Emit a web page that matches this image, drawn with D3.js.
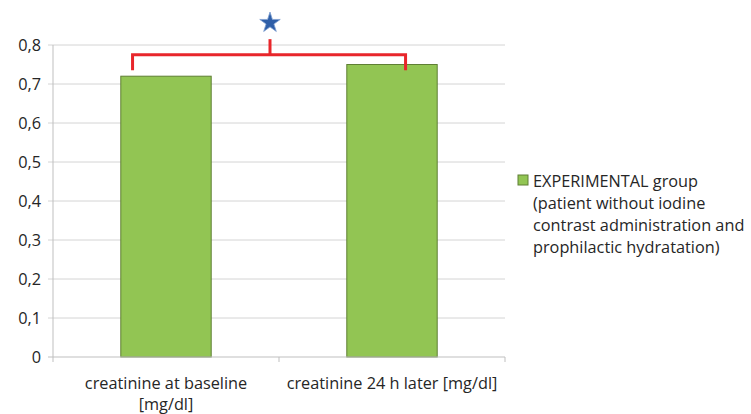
<!DOCTYPE html>
<html><head><meta charset="utf-8">
<script src="https://cdn.jsdelivr.net/npm/d3@7"></script>
<style>body{margin:0;background:#fff}</style>
</head><body>
<svg id="c" width="751" height="414"></svg>
<script>
const categories = ["creatinine at baseline [mg/dl]", "creatinine 24 h later [mg/dl]"];
const values = [0.72, 0.75];
const yTicks = [0, 0.1, 0.2, 0.3, 0.4, 0.5, 0.6, 0.7, 0.8];
const tickLabels = ["0", "0,1", "0,2", "0,3", "0,4", "0,5", "0,6", "0,7", "0,8"];
const legendLines = ["EXPERIMENTAL group", "(patient without iodine", "contrast administration and", "prophilactic hydratation)"];
const bracket = {y: 0.775, ends: 0.735, top: 0.815, star: 0.857};

const svg = d3.select("#c");
const font = "'Open Sans', sans-serif";
const fs = 16.3;
const x = d3.scaleBand().domain(categories).range([53, 505]).paddingInner(0.6).paddingOuter(0.3);
const xc = d3.scaleBand().domain(categories).range([53, 505]);
const y = d3.scaleLinear().domain([0, 0.8]).range([357, 45]);

svg.append("g").selectAll("line").data(yTicks.slice(1)).join("line")
  .attr("x1", 48).attr("x2", 505).attr("y1", d => y(d)).attr("y2", d => y(d))
  .attr("stroke", "#d4d4d4").attr("stroke-width", 1);
svg.append("line").attr("x1", 53).attr("x2", 53).attr("y1", y(0.8)).attr("y2", y(0)).attr("stroke", "#bfbfbf");
svg.append("line").attr("x1", 48).attr("x2", 53).attr("y1", y(0)).attr("y2", y(0)).attr("stroke", "#bfbfbf");
svg.append("g").selectAll("text").data(yTicks).join("text")
  .attr("x", 41).attr("y", d => y(d)).attr("dy", "0.35em").attr("text-anchor", "end")
  .attr("font-family", font).attr("font-size", fs).attr("fill", "#262626")
  .text((d, i) => tickLabels[i]);

svg.append("g").selectAll("rect").data(values).join("rect")
  .attr("x", (d, i) => x(categories[i])).attr("width", x.bandwidth())
  .attr("y", d => y(d)).attr("height", d => y(0) - y(d))
  .attr("fill", "#92c553").attr("stroke", "#5f7f34").attr("stroke-width", 1);

svg.append("line").attr("x1", 53).attr("x2", 505).attr("y1", y(0)).attr("y2", y(0)).attr("stroke", "#bfbfbf");
const xTickPos = [53, xc(categories[1]), 505];
svg.append("g").selectAll("line").data(xTickPos).join("line")
  .attr("x1", d => d).attr("x2", d => d).attr("y1", y(0)).attr("y2", y(0) + 5).attr("stroke", "#bfbfbf");

const catLines = [["creatinine at baseline", "[mg/dl]"], ["creatinine 24 h later [mg/dl]"]];
categories.forEach((c, i) => {
  const t = svg.append("text").attr("text-anchor", "middle").attr("font-family", font)
    .attr("font-size", fs).attr("fill", "#262626");
  catLines[i].forEach((l, j) => t.append("tspan").attr("x", xc(c) + xc.bandwidth() / 2).attr("y", 389 + j * 21).text(l));
});

const c0 = x(categories[0]) + x.bandwidth() * 0.13, c1 = x(categories[1]) + x.bandwidth() * 0.65;
const mid = (xc(categories[0]) + xc(categories[1]) + xc.bandwidth()) / 2 - 9;
const red = "#e8262b";
svg.append("path").attr("fill", "none").attr("stroke", red).attr("stroke-width", 3)
  .attr("d", `M${c0},${y(bracket.ends)}V${y(bracket.y)}H${c1}V${y(bracket.ends)}`);
svg.append("line").attr("x1", mid).attr("x2", mid).attr("y1", y(bracket.y)).attr("y2", y(bracket.top))
  .attr("stroke", red).attr("stroke-width", 3);
svg.append("path").attr("d", d3.symbol(d3.symbolStar, 130)())
  .attr("transform", `translate(${mid},${y(bracket.star)})`).attr("fill", "#2f5fa8").attr("stroke", "#7f9fd0").attr("stroke-width", 0.8);

svg.append("rect").attr("x", 518).attr("y", 175).attr("width", 10).attr("height", 10)
  .attr("fill", "#92c553").attr("stroke", "#5f7f34");
const lt = svg.append("text").attr("font-family", font).attr("font-size", fs).attr("fill", "#262626");
legendLines.forEach((l, i) => lt.append("tspan").attr("x", 533).attr("y", 187 + i * 22).text(l));
</script>
</body></html>
